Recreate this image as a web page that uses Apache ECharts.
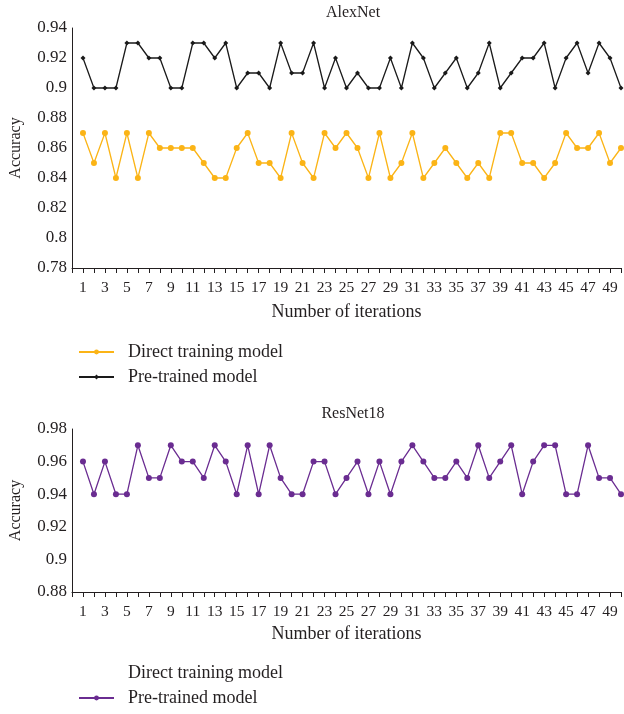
<!DOCTYPE html>
<html>
<head>
<meta charset="utf-8">
<script src="https://cdn.jsdelivr.net/npm/echarts@6/dist/echarts.min.js"></script>
<style>
  html, body { margin: 0; padding: 0; background: #fff; }
  #chart { width: 624px; height: 714px; }
</style>
</head>
<body>
<div id="chart"></div>
<script>
// iterations 1..50
var iterations = [1, 2, 3, 4, 5, 6, 7, 8, 9, 10, 11, 12, 13, 14, 15, 16, 17, 18, 19, 20,
  21, 22, 23, 24, 25, 26, 27, 28, 29, 30, 31, 32, 33, 34, 35, 36, 37, 38, 39, 40,
  41, 42, 43, 44, 45, 46, 47, 48, 49, 50];

// AlexNet
var alexDirect = [0.87, 0.85, 0.87, 0.84, 0.87, 0.84, 0.87, 0.86, 0.86, 0.86,
  0.86, 0.85, 0.84, 0.84, 0.86, 0.87, 0.85, 0.85, 0.84, 0.87,
  0.85, 0.84, 0.87, 0.86, 0.87, 0.86, 0.84, 0.87, 0.84, 0.85,
  0.87, 0.84, 0.85, 0.86, 0.85, 0.84, 0.85, 0.84, 0.87, 0.87,
  0.85, 0.85, 0.84, 0.85, 0.87, 0.86, 0.86, 0.87, 0.85, 0.86];
var alexPre = [0.92, 0.90, 0.90, 0.90, 0.93, 0.93, 0.92, 0.92, 0.90, 0.90,
  0.93, 0.93, 0.92, 0.93, 0.90, 0.91, 0.91, 0.90, 0.93, 0.91,
  0.91, 0.93, 0.90, 0.92, 0.90, 0.91, 0.90, 0.90, 0.92, 0.90,
  0.93, 0.92, 0.90, 0.91, 0.92, 0.90, 0.91, 0.93, 0.90, 0.91,
  0.92, 0.92, 0.93, 0.90, 0.92, 0.93, 0.91, 0.93, 0.92, 0.90];

// ResNet18 (direct training series has no data in the source figure)
var resDirect = [];
var resPre = [0.96, 0.94, 0.96, 0.94, 0.94, 0.97, 0.95, 0.95, 0.97, 0.96,
  0.96, 0.95, 0.97, 0.96, 0.94, 0.97, 0.94, 0.97, 0.95, 0.94,
  0.94, 0.96, 0.96, 0.94, 0.95, 0.96, 0.94, 0.96, 0.94, 0.96,
  0.97, 0.96, 0.95, 0.95, 0.96, 0.95, 0.97, 0.95, 0.96, 0.97,
  0.94, 0.96, 0.97, 0.97, 0.94, 0.94, 0.97, 0.95, 0.95, 0.94];

var legendNames = ['Direct training model', 'Pre-trained model'];

function pairs(ys) {
  return ys.map(function (v, i) { return [iterations[i], v]; });
}

var font = 'Liberation Serif';
var ink = '#231f20';

function xAxis(gridIndex, gap) {
  return {
    type: 'value', gridIndex: gridIndex, min: 0, max: 50, interval: 1,
    name: 'Number of iterations', nameLocation: 'middle', nameGap: gap,
    nameTextStyle: { fontFamily: font, fontSize: 18, color: ink },
    axisLine: { lineStyle: { color: ink, width: 1 } },
    axisTick: { show: true, inside: false, length: 5, lineStyle: { color: ink } },
    axisLabel: {
      margin: 12, fontFamily: font, fontSize: 15.5, color: ink,
      showMinLabel: true, showMaxLabel: true,
      formatter: function (v) { return v % 2 === 1 ? String(v) : ''; }
    },
    splitLine: { show: false }
  };
}

function yAxis(gridIndex, min, max) {
  return {
    type: 'value', gridIndex: gridIndex, min: min, max: max, interval: 0.02,
    name: 'Accuracy', nameLocation: 'middle', nameGap: 48,
    nameTextStyle: { fontFamily: font, fontSize: 16, color: ink },
    axisLine: { show: true, lineStyle: { color: ink, width: 1 } },
    axisTick: { show: false },
    axisLabel: {
      margin: 5, fontFamily: font, fontSize: 17, color: ink,
      formatter: function (v) { return String(Math.round(v * 100) / 100); }
    },
    splitLine: { show: false }
  };
}

function line(name, data, color, symbol, size, xi) {
  return {
    name: name, type: 'line', xAxisIndex: xi, yAxisIndex: xi,
    data: pairs(data), symbol: symbol, symbolSize: size, showAllSymbol: true,
    clip: false, animation: false,
    lineStyle: { color: color, width: 1.3 },
    itemStyle: { color: color }
  };
}

function legend(names, top) {
  return {
    data: names, orient: 'vertical', left: 78, top: top, padding: 0,
    itemWidth: 35, itemHeight: 6, itemGap: 5,
    formatter: function (n) { return n === names[0] ? legendNames[0] : legendNames[1]; },
    textStyle: { fontFamily: font, fontSize: 18, lineHeight: 20, color: ink, padding: [0, 0, 0, 9] }
  };
}

var chart = echarts.init(document.getElementById('chart'));
chart.setOption({
  animation: false,
  title: [
    { text: 'AlexNet', left: 348, top: 0, textAlign: 'center',
      textStyle: { fontFamily: font, fontSize: 16, fontWeight: 'normal', color: ink } },
    { text: 'ResNet18', left: 348, top: 401, textAlign: 'center',
      textStyle: { fontFamily: font, fontSize: 16, fontWeight: 'normal', color: ink } }
  ],
  grid: [
    { left: 72, top: 28, height: 240, right: 1 },
    { left: 72, top: 429, height: 163, right: 1 }
  ],
  xAxis: [xAxis(0, 35), xAxis(1, 33)],
  yAxis: [yAxis(0, 0.78, 0.94), yAxis(1, 0.88, 0.98)],
  legend: [
    legend(['a-direct', 'a-pre'], 342),
    legend(['r-direct', 'r-pre'], 663)
  ],
  series: [
    line('a-direct', alexDirect, '#fbb416', 'circle', 6, 0),
    line('a-pre', alexPre, '#1a1a1a', 'diamond', 5, 0),
    line('r-direct', resDirect, 'rgba(0,0,0,0)', 'circle', 6, 1),
    line('r-pre', resPre, '#6a2c91', 'circle', 6, 1)
  ]
});
</script>
</body>
</html>
